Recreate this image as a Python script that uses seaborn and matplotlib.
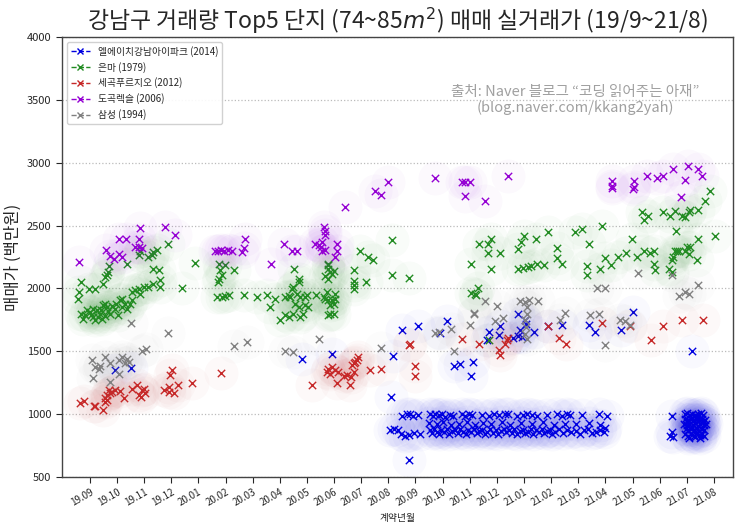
import pandas as pd
import matplotlib.pyplot as plt
import seaborn as sns
from matplotlib.lines import Line2D

# x = month index (0 = 19.09), y = price (백만원)
names = ["엘에이치강남아이파크 (2014)", "은마 (1979)", "세곡푸르지오 (2012)", "도곡렉슬 (2006)", "삼성 (1994)"]
colors = ["#0000e0", "#228b22", "#c62828", "#9400d3", "#808080"]
month_labels = ["19.09", "19.10", "19.11", "19.12", "20.01", "20.02", "20.03", "20.04", "20.05", "20.06",
                "20.07", "20.08", "20.09", "20.10", "20.11", "20.12", "21.01", "21.02", "21.03", "21.04",
                "21.05", "21.06", "21.07", "21.08"]

blue_m = [0.91, 1.52, 7.81, 8.94, 11.16, 11.11, 11.75, 11.50, 12.11, 13.16, 12.92, 13.41, 13.65, 14.11, 14.06,
          14.70, 14.64, 15.13, 15.09, 15.79, 16.04, 16.06, 15.86, 15.77, 15.91, 15.61, 16.38, 16.87, 17.39, 18.38,
          18.62, 19.58, 20.00, 22.21,
          11.50, 11.68, 11.81, 11.90, 12.11, 12.55, 12.65, 12.73, 12.85, 12.98, 13.10, 13.28, 13.40, 13.72, 13.84,
          13.96, 14.10, 14.46, 14.70, 14.90, 15.07, 15.31, 15.42, 15.73, 15.95, 16.10, 16.28, 16.47, 16.84, 17.21,
          17.39, 17.58, 17.70, 18.13, 18.77, 19.05,
          12.50, 12.80, 13.00, 13.30, 13.60, 13.90, 14.20, 14.50, 14.80, 15.20, 15.50, 15.90, 16.30, 16.70, 17.10,
          17.50, 17.90, 18.40, 18.80,
          11.05, 11.20, 11.35, 11.45, 11.60, 11.75, 11.95, 12.15, 12.55, 12.62, 12.70, 12.80, 12.88, 12.95, 13.05,
          13.15, 13.25, 13.35, 13.45, 13.55, 13.65, 13.75, 13.85, 13.95, 14.05, 14.15, 14.25, 14.35, 14.45, 14.55,
          14.65, 14.75, 14.85, 14.95, 15.05, 15.15, 15.25, 15.35, 15.45, 15.55, 15.65, 15.75, 15.85, 15.95, 16.05,
          16.15, 16.25, 16.35, 16.45, 16.55, 16.65, 16.75, 16.85, 16.95, 17.05, 17.15, 17.30, 17.45, 17.60, 17.75,
          17.90, 18.05, 18.20, 18.35, 18.50, 18.65, 18.80, 18.95, 19.00,
          21.45, 21.45, 21.39, 21.51,
          21.92, 22.00, 22.12, 22.20, 22.31, 22.40, 22.52, 22.60, 21.95, 22.06, 22.15, 22.27, 22.35, 22.46, 22.55,
          22.66, 21.90, 22.01, 22.10, 22.22, 22.30, 22.41, 22.50, 22.62, 22.70, 21.96, 22.05, 22.17, 22.25, 22.36,
          22.45, 22.57, 22.65, 21.94, 22.04, 22.15, 22.26, 22.35, 22.47, 22.55, 22.64, 22.10, 22.31, 22.50, 22.00,
          22.20, 22.40, 22.60, 22.30]
blue_p = [1355, 1371, 1442, 1482, 1461, 1138, 635, 1673, 1701, 1741, 1646, 1381, 1397, 1411, 1302,
          1654, 1593, 1699, 1628, 1794, 1747, 1715, 1667, 1620, 1614, 1609, 1654, 1699, 1707, 1707,
          1654, 1673, 1812, 1503,
          985, 1000, 1005, 985, 995, 1000, 985, 1005, 990, 1000, 980, 995, 985, 1000, 985,
          1005, 990, 995, 985, 1000, 990, 1000, 1000, 985, 990, 1005, 995, 985, 995, 1000,
          985, 1000, 990, 995, 1005, 985,
          930, 920, 940, 915, 925, 935, 910, 930, 920, 935, 915, 930, 920, 935, 915,
          925, 920, 930, 915,
          870, 880, 875, 840, 830, 835, 850, 845, 875, 850, 885, 860, 840, 870, 855,
          880, 845, 865, 875, 850, 885, 860, 845, 870, 855, 880, 850, 865, 875, 845,
          860, 880, 850, 870, 840, 865, 880, 855, 870, 850, 880, 845, 865, 875, 850,
          860, 880, 845, 870, 855, 880, 850, 865, 875, 845, 860, 880, 850, 870, 855,
          865, 845, 870, 880, 850, 860, 875, 855, 890,
          985, 860, 826, 820,
          1000, 1010, 995, 1005, 990, 1000, 1010, 995, 960, 950, 965, 955, 960, 950, 965,
          955, 920, 910, 925, 915, 930, 905, 920, 910, 925, 880, 870, 885, 875, 890,
          865, 880, 870, 840, 830, 845, 825, 850, 835, 845, 830, 810, 815, 812, 940,
          895, 975, 940, 860]

green_m = [-0.34, -0.39, -0.43, -0.03, 0.18, 0.49, 0.62, 0.68, 0.71, 0.55, 1.35, 1.81, 1.85, 2.15, 2.28, 2.34,
           2.46, 2.89, 2.31, 2.56, 2.58, 2.31, 2.15, 1.99, 1.82, 1.66, 1.54, 1.85, 2.58, 3.38, 3.87,
           -0.31, -0.18, 0.00, 0.12, 0.18, 0.25, 0.37, 0.47, 0.55, 0.62, 0.74, 0.92, 1.04, 1.11, 1.17, 1.35,
           1.48, 1.54, -0.25, 0.05, 0.30, 0.40, 0.55, 0.65, 0.80, 0.95, 1.20, 1.30, 0.10, -0.10, 0.45,
           4.75, 4.81, 4.87, 4.75, 4.72, 4.99, 5.30, 4.69, 4.87, 4.99, 5.12, 5.67, 6.16, 6.53, 6.65, 6.84, 7.18,
           7.02, 7.20, 7.32, 7.50, 7.75, 8.79, 8.98,
           7.54, 7.69, 7.71, 7.50, 7.44, 7.32, 7.38, 7.63, 7.75, 7.93, 8.00, 7.56, 7.69, 7.93, 8.03, 7.87,
           8.33, 8.61, 8.67, 8.79, 8.92, 9.04, 9.04, 8.98, 8.86, 8.86, 8.73, 8.65, 8.77, 8.77, 8.86, 8.92,
           8.98, 8.79, 8.77,
           9.72, 9.72, 9.75, 9.72, 9.96, 10.25, 10.45, 10.17, 11.13, 11.13, 11.77,
           14.06, 14.06, 14.18, 14.31, 14.23, 14.33, 14.67, 14.67, 14.79, 15.13, 14.80, 14.70,
           15.79, 15.89, 16.01, 16.43, 16.90, 17.21, 17.21, 17.39, 15.77, 15.98, 16.16, 16.26, 16.47, 16.72,
           17.88, 18.13, 18.38, 18.87, 18.31, 18.31, 18.81, 18.99, 19.21, 19.46, 19.75, 19.97, 20.16, 20.41,
           20.65, 20.78, 20.81, 20.84, 21.33, 21.45, 21.51, 21.58, 21.64, 21.70, 21.94, 22.00, 22.13, 22.07,
           22.37, 22.43, 23.05, 21.61, 20.34, 20.41, 20.57, 21.14, 21.39, 21.58, 21.82, 21.94, 22.07, 22.13,
           22.41, 22.68, 22.87, 21.45]
green_p = [2051, 1971, 1919, 1998, 1998, 2032, 2104, 2130, 2175, 2090, 2197, 2263, 2302, 2249, 2263, 2289,
           2308, 2350, 2157, 2149, 2064, 2032, 2011, 2011, 1998, 1990, 1971, 1959, 2011, 2003, 2202,
           1800, 1786, 1812, 1773, 1747, 1826, 1800, 1866, 1879, 1852, 1800, 1839, 1786, 1905, 1919, 1839,
           1879, 1905, 1760, 1790, 1770, 1830, 1780, 1820, 1860, 1880, 1850, 1880, 1840, 1830, 1760,
           2197, 2144, 2104, 2078, 2051, 2183, 2149, 1932, 1932, 1937, 1945, 1951, 1932, 1951, 1852, 1919, 1932,
           1747, 1786, 1773, 1800, 1773, 1786, 1800,
           2157, 2078, 2051, 2011, 1998, 1940, 1932, 1959, 1932, 1932, 1945, 1879, 1852, 1866, 1852, 1800,
           1945, 1932, 1919, 1905, 1905, 1919, 1958, 1879, 1866, 1800, 1971, 2096, 2197, 2157, 2130, 2112,
           2138, 2078, 2183,
           2149, 2056, 2024, 1998, 2302, 2249, 2223, 2051, 2382, 2104, 2083,
           2197, 1963, 1953, 2006, 1945, 2350, 2350, 2281, 2395, 2281, 2151, 1588,
           2316, 2368, 2421, 2395, 2448, 2321, 2244, 2197, 2151, 2165, 2170, 2175, 2197, 2183,
           2448, 2474, 2350, 2501, 2175, 2104, 2157, 2244, 2189, 2249, 2281, 2395, 2249, 2302,
           2281, 2302, 2197, 2149, 2151, 2223, 2249, 2302, 2302, 2302, 2302, 2329, 2329, 2276,
           2223, 2395, 2421, 2461, 2607, 2541, 2580, 2607, 2580, 2620, 2580, 2567, 2607, 2625,
           2625, 2699, 2779, 2130]

red_m = [-0.36, -0.20, 0.14, 0.20, 0.50, 0.57, 0.63, 0.69, 0.75, 0.81, 0.63, 0.93, 1.12, 1.24, 1.55, 1.73,
         1.82, 1.92, 1.98, 2.04, 1.89, 2.72, 2.90, 2.96, 3.03, 2.90, 3.09, 3.25, 3.76, 4.85, 0.57,
         8.18, 8.73, 8.79, 8.86, 8.92, 9.04, 9.10, 9.16, 9.35, 9.47, 9.59, 9.63, 9.66, 9.72, 9.78, 9.84,
         9.90, 9.72, 10.33, 10.74, 11.99, 11.99, 11.81, 11.77, 13.72, 14.33, 15.07, 15.13, 15.31, 15.38,
         15.42, 16.90, 17.29, 17.54, 18.89, 19.92, 20.69, 21.14, 21.82, 22.58]
red_p = [1090, 1106, 1064, 1064, 1032, 1125, 1151, 1191, 1165, 1178, 1111, 1191, 1185, 1125, 1204, 1230,
         1151, 1191, 1204, 1165, 1138, 1191, 1212, 1310, 1350, 1178, 1165, 1230, 1244, 1328, 1098,
         1230, 1336, 1363, 1323, 1376, 1350, 1244, 1336, 1302, 1310, 1230, 1296, 1389, 1403, 1415, 1434,
         1455, 1336, 1355, 1363, 1381, 1302, 1562, 1548, 1601, 1556, 1508, 1469, 1562, 1588,
         1609, 1699, 1609, 1556, 1725, 1699, 1593, 1699, 1747, 1752]

purple_m = [-0.39, 0.60, 0.75, 0.87, 1.06, 1.18, 1.34, 1.08, 1.80, 1.86, 1.65, 1.80, 1.92, 2.78, 3.15,
            4.60, 4.72, 4.85, 4.95, 5.08, 5.24, 5.71, 5.67, 5.61, 6.69, 7.15, 7.44, 7.63,
            8.30, 8.43, 8.52, 8.55, 8.65, 8.57, 8.65, 8.61, 8.65, 9.10, 9.10, 9.02, 9.39, 10.52, 10.73, 10.97,
            12.71, 13.72, 13.84, 14.00, 13.81, 14.58, 15.41,
            19.26, 19.26, 19.26, 20.07, 20.04, 20.01, 20.53, 20.90, 21.14, 21.49, 21.92, 22.04, 22.41, 22.56, 21.80]
purple_p = [2210, 2308, 2255, 2236, 2271, 2249, 2395, 2395, 2395, 2480, 2329, 2329, 2324, 2487, 2429,
            2302, 2302, 2308, 2302, 2308, 2302, 2390, 2324, 2289, 2197, 2350, 2302, 2302,
            2355, 2342, 2329, 2302, 2308, 2368, 2461, 2487, 2429, 2355, 2302, 2249, 2652, 2773, 2747, 2850,
            2880, 2850, 2850, 2845, 2739, 2699, 2892,
            2858, 2818, 2797, 2852, 2811, 2792, 2898, 2880, 2898, 2951, 2864, 2972, 2951, 2898, 2726]

gray_m = [1.52, 2.88, 0.07, 0.20, 0.32, 0.38, 0.57, 0.75, 1.06, 1.18, 1.37, 1.30, 1.43, 1.06, 1.92, 2.07,
          0.10, 0.75, 5.30, 5.79, 7.18, 7.50, 8.43, 10.74, 12.73, 12.85, 13.32, 13.41, 14.00, 14.14, 14.94,
          15.23, 14.58, 15.01, 14.14, 18.68, 18.99, 20.22, 15.86, 16.04, 16.19, 16.51, 16.10, 21.70, 21.94,
          22.07, 22.41, 21.45, 16.10, 16.04, 16.06, 16.04, 16.10, 17.52, 17.33, 18.44, 18.75, 18.97, 19.55,
          19.73, 19.92]
gray_p = [1725, 1649, 1429, 1376, 1363, 1381, 1455, 1403, 1429, 1455, 1442, 1403, 1416, 1323, 1503, 1522,
          1284, 1257, 1543, 1574, 1503, 1495, 1601, 1527, 1646, 1654, 1675, 1503, 1709, 1794, 1741,
          1768, 1900, 1858, 1805, 2006, 2006, 2122, 1900, 1892, 1905, 1900, 1852, 1937, 1971,
          1953, 2030, 2104, 1800, 1747, 1694, 1641, 1601, 1805, 1747, 1786, 1794, 1554, 1747,
          1741, 1707]


def main():
    sns.set_style("white")
    plt.rcParams["font.family"] = ["Noto Sans CJK KR", "DejaVu Sans"]
    plt.rcParams["axes.unicode_minus"] = False

    series = [(blue_m, blue_p), (green_m, green_p), (red_m, red_p), (purple_m, purple_p), (gray_m, gray_p)]
    frames = []
    for name, (m, p) in zip(names, series):
        frames.append(pd.DataFrame({"month": m, "price": p, "apt": name}))
    df = pd.concat(frames, ignore_index=True)
    palette = dict(zip(names, colors))

    fig = plt.figure(figsize=(7.43, 5.23), dpi=100)
    ax = fig.add_axes([0.0834, 0.088, 0.903, 0.841])

    for name in names:
        sub = df[df["apt"] == name]
        # faint halo + the x marker
        sns.scatterplot(data=sub, x="month", y="price", color=palette[name], s=600,
                        alpha=0.022, linewidth=0, marker="o", legend=False, ax=ax)
        sns.scatterplot(data=sub, x="month", y="price", color=palette[name], s=28,
                        marker="x", linewidth=1.0, legend=False, ax=ax)

    ax.set_xlim(-1.03, 23.7)
    ax.set_ylim(500, 4000)
    ax.set_yticks(range(500, 4001, 500))
    ax.set_xticks(range(len(month_labels)))
    ax.set_xticklabels(month_labels, rotation=30, fontsize=7, ha="right", rotation_mode="anchor")
    ax.tick_params(axis="y", labelsize=8, length=4, width=0.8, direction="out", left=True)
    ax.tick_params(axis="x", length=4, width=0.8, direction="out", bottom=True, pad=3)
    ax.yaxis.grid(True, linestyle=":", color="#bbbbbb", linewidth=0.9)
    ax.xaxis.grid(False)
    for sp in ax.spines.values():
        sp.set_color("#444444")
        sp.set_linewidth(1.0)

    ax.set_xlabel("계약년월", fontsize=7)
    ax.set_ylabel("매매가 (백만원)", fontsize=12)
    ax.set_title("강남구 거래량 Top5 단지 (74~85$m^2$) 매매 실거래가 (19/9~21/8)", fontsize=16.5, pad=6)

    handles = [Line2D([0], [0], color=c, linestyle="--", marker="x", linewidth=1, markersize=5)
               for c in colors]
    ax.legend(handles, names, loc="upper left", fontsize=7, frameon=True, framealpha=0.9,
              borderaxespad=0.5)

    ax.text(0.765, 0.875, "출처: Naver 블로그 “코딩 읽어주는 아재”", transform=ax.transAxes,
            ha="center", va="center", fontsize=10.5, color="#a0a0a0")
    ax.text(0.765, 0.839, "(blog.naver.com/kkang2yah)", transform=ax.transAxes,
            ha="center", va="center", fontsize=10.5, color="#a0a0a0")

    fig.savefig("out.png", dpi=100)


if __name__ == "__main__":
    main()
